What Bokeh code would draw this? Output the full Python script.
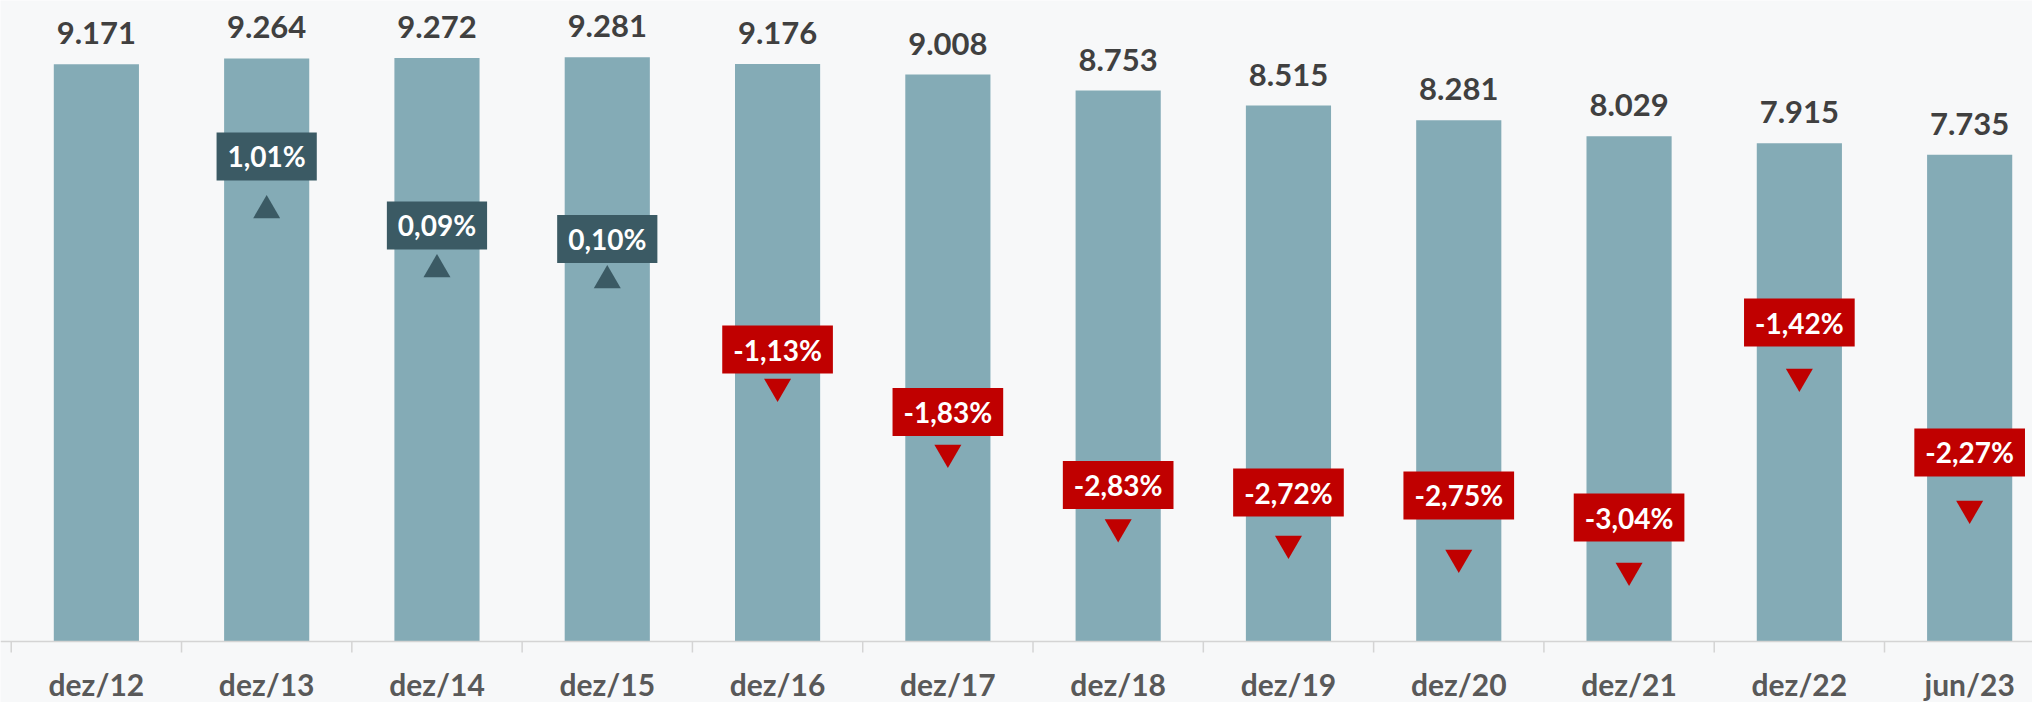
from bokeh.plotting import figure
from bokeh.models import Range1d, ColumnDataSource, Span
from bokeh.core.properties import value
from bokeh.embed import file_html
from bokeh.resources import INLINE

# ---- data ----
categories = ["dez/12", "dez/13", "dez/14", "dez/15", "dez/16", "dez/17",
              "dez/18", "dez/19", "dez/20", "dez/21", "dez/22", "jun/23"]
values = [9171, 9264, 9272, 9281, 9176, 9008, 8753, 8515, 8281, 8029, 7915, 7735]
variation = [None, 1.01, 0.09, 0.10, -1.13, -1.83, -2.83, -2.72, -2.75, -3.04, -1.42, -2.27]
# hidden "variation" series as drawn in the reference (marker levels, in bar units)
marker_level = [None, 6848, 5910, 5736, 4051, 3003, 1819, 1557, 1335, 1128, 4210, 2113]
# level (in bar units) at which each variation label sits in the reference
label_level = [None, 7706, 6610, 6395, 4639, 3646, 2487, 2367, 2320, 1970, 5068, 3003]

# ---- styling ----
BAR = "#84ABB6"
UP = "#3B5A64"
DOWN = "#C00000"
VAL_TXT = "#404040"
CAT_TXT = "#595959"
AXIS = "#D4D4D4"
BG = "#f7f8f9"
FONT = "Lato"

W, H = 2032, 702
AXIS_PX = 641          # baseline (value 0) position from the top, px
PX_PER_UNIT = 0.06294  # vertical scale
Y_END = AXIS_PX / PX_PER_UNIT
Y_START = -(H - AXIS_PX) / PX_PER_UNIT
TICK_LEN = 11  # px

idx = list(range(len(categories)))

p = figure(width=W, height=H, x_range=Range1d(-0.563, 11.369),
           y_range=Range1d(Y_START, Y_END),
           output_backend="svg", toolbar_location=None,
           x_axis_location=None, y_axis_location=None,
           min_border_left=0, min_border_right=0, min_border_top=0, min_border_bottom=0)
p.background_fill_color = BG
p.border_fill_color = BG
p.outline_line_color = None
p.grid.visible = False

# bars
p.vbar(x=idx, top=values, width=0.5, bottom=0, fill_color=BAR, line_color=None)

# category axis: baseline, boundary ticks, labels
p.add_layout(Span(location=0, dimension="width", line_color=AXIS, line_width=1.5))
bounds = [i - 0.5 for i in range(len(categories) + 1)]
p.segment(x0=bounds, x1=bounds, y0=[0] * len(bounds),
          y1=[-TICK_LEN / PX_PER_UNIT] * len(bounds), line_color=AXIS, line_width=1.5)
cat_src = ColumnDataSource(dict(x=idx, y=[0] * len(idx), t=categories))
p.text(x="x", y="y", text="t", source=cat_src, text_align="center",
       text_baseline="middle", y_offset=42, text_color=CAT_TXT,
       text_font=value(FONT), text_font_style="bold", text_font_size="30px")

# value labels
val_src = ColumnDataSource(dict(x=idx, y=values,
                                t=[f"{v:,}".replace(",", ".") for v in values]))
p.text(x="x", y="y", text="t", source=val_src, text_align="center",
       text_baseline="middle", y_offset=-31, text_color=VAL_TXT,
       text_font=value(FONT), text_font_style="bold", text_font_size="31px")

# variation labels (badges) + markers (triangles)
bx, by, bt, bc = [], [], [], []
ux, uy, dx, dy = [], [], [], []
for i, (v, m, lvl) in enumerate(zip(variation, marker_level, label_level)):
    if v is None:
        continue
    bx.append(i)
    by.append(lvl)
    bt.append(f"{v:.2f}".replace(".", ",") + "%")
    bc.append(UP if v >= 0 else DOWN)
    if v >= 0:
        ux.append(i); uy.append(m)
    else:
        dx.append(i); dy.append(m)

badge_src = ColumnDataSource(dict(x=bx, y=by, t=bt, c=bc))
p.text(x="x", y="y", text="t", source=badge_src, text_align="center",
       text_baseline="middle", text_color="white", text_font=value(FONT),
       text_font_style="bold", text_font_size="28px",
       background_fill_color="c", padding=dict(x=11, y=7))

p.scatter(x=ux, y=uy, marker="triangle", size=27, fill_color=UP, line_color=None)
p.scatter(x=dx, y=dy, marker="inverted_triangle", size=27, fill_color=DOWN, line_color=None)

open("out.html", "w").write(file_html(p, INLINE))
